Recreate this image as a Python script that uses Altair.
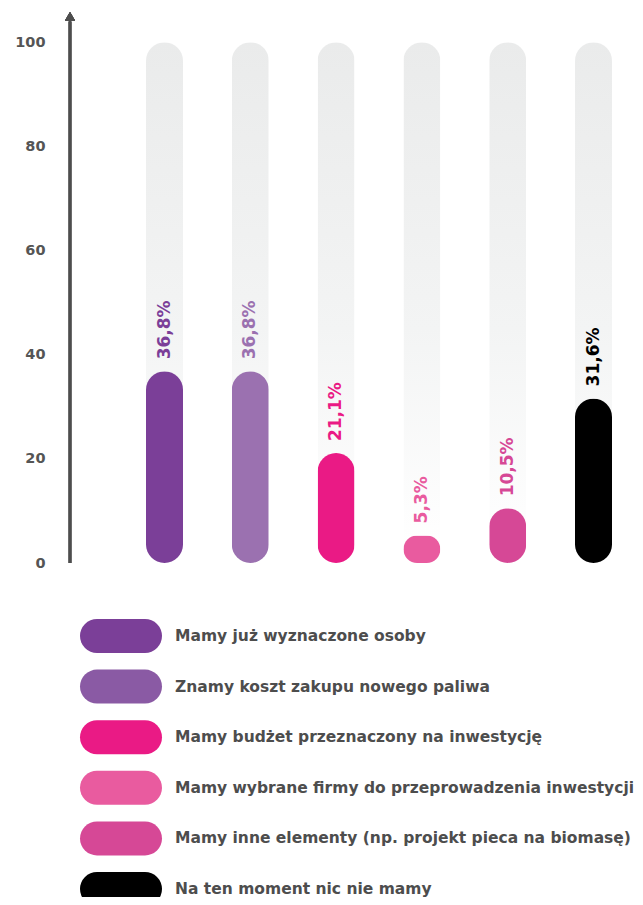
import altair as alt
import pandas as pd

# ---- data ----
labels = [
    "Mamy już wyznaczone osoby",
    "Znamy koszt zakupu nowego paliwa",
    "Mamy budżet przeznaczony na inwestycję",
    "Mamy wybrane firmy do przeprowadzenia inwestycji",
    "Mamy inne elementy (np. projekt pieca na biomasę)",
    "Na ten moment nic nie mamy",
]
values = [36.8, 36.8, 21.1, 5.3, 10.5, 31.6]
y_ticks = [0, 20, 40, 60, 80, 100]

# ---- style ----
bar_colors = ["#7b3f98", "#9b71b0", "#ea1a85", "#e95b9f", "#d64896", "#000000"]
legend_colors = ["#7b3f98", "#8a5aa4", "#ea1a85", "#e95b9f", "#d64896", "#000000"]
FONT = "DejaVu Sans"
AXIS_COL = "#4d4d4d"

df = pd.DataFrame({
    "label": labels,
    "value": values,
    "full": [100] * len(labels),
    "text": [f"{v:.1f}".replace(".", ",") + "%" for v in values],
})

yscale = alt.Scale(domain=[0, 106], nice=False, zero=True)
yaxis = alt.Axis(values=y_ticks, domain=False, ticks=False, grid=False,
                 labelFont=FONT, labelFontSize=14.5, labelFontWeight="bold",
                 labelColor="#555555", labelPadding=25, title=None)
xscale = alt.Scale(type="point", domain=labels, range=[94.5, 523.5], padding=0)
cscale = alt.Scale(domain=labels, range=bar_colors)

base = alt.Chart(df)

grad = alt.Gradient(
    gradient="linear",
    stops=[
        alt.GradientStop(color="#eaebeb", offset=0),
        alt.GradientStop(color="#f3f4f4", offset=0.55),
        alt.GradientStop(color="#ffffff", offset=0.97),
    ],
    x1=0, x2=0, y1=0, y2=1,
)

bg = base.mark_bar(size=37, cornerRadius=18.5, color=grad).encode(
    x=alt.X("label:N", scale=xscale, axis=None),
    y=alt.Y("full:Q", scale=yscale, axis=yaxis),
)

bars = base.mark_bar(size=37, cornerRadius=18.5).encode(
    x=alt.X("label:N", scale=xscale, axis=None),
    y=alt.Y("value:Q", scale=yscale, axis=yaxis),
    color=alt.Color("label:N", scale=cscale, legend=None),
)

txt = base.mark_text(angle=270, align="left", baseline="middle", dx=12,
                     font=FONT, fontSize=17, fontWeight="bold").encode(
    x=alt.X("label:N", scale=xscale, axis=None),
    y=alt.Y("value:Q", scale=yscale, axis=yaxis),
    text="text:N",
    color=alt.Color("label:N", scale=cscale, legend=None),
)

axis_line = alt.Chart(df).mark_rule(strokeWidth=2.5, color=AXIS_COL).encode(
    x=alt.value(0),
    y=alt.Y(datum=0, scale=yscale, axis=yaxis),
    y2=alt.Y2(datum=104),
)

arrow = alt.Chart(df).mark_point(shape="triangle-up", filled=True, size=100,
                                 color=AXIS_COL, opacity=1).encode(
    x=alt.value(0),
    y=alt.Y(datum=105, scale=yscale, axis=yaxis),
)

main = alt.layer(bg, bars, txt, axis_line, arrow)

lscale = alt.Scale(type="point", domain=labels, range=[625, 878], padding=0)
lcscale = alt.Scale(domain=labels, range=legend_colors)

pills = base.mark_rule(strokeWidth=34, strokeCap="round").encode(
    x=alt.value(27), x2=alt.value(75),
    y=alt.Y("label:N", scale=lscale, axis=None),
    color=alt.Color("label:N", scale=lcscale, legend=None),
)
ltext = base.mark_text(align="left", baseline="middle", font=FONT, fontSize=15.5,
                       fontWeight="bold", color=AXIS_COL).encode(
    x=alt.value(105),
    y=alt.Y("label:N", scale=lscale, axis=None),
    text="label:N",
)
legend = alt.layer(pills, ltext)

chart = alt.layer(main, legend).resolve_scale(
    y="independent", color="independent", x="independent"
).properties(
    width=565, height=552,
    padding={"left": 62, "top": 3, "right": 0, "bottom": 334},
    autosize=alt.AutoSizeParams(type="none"),
).configure_view(stroke=None)

chart.save("out.html", embed_options={"renderer": "svg", "actions": False})
